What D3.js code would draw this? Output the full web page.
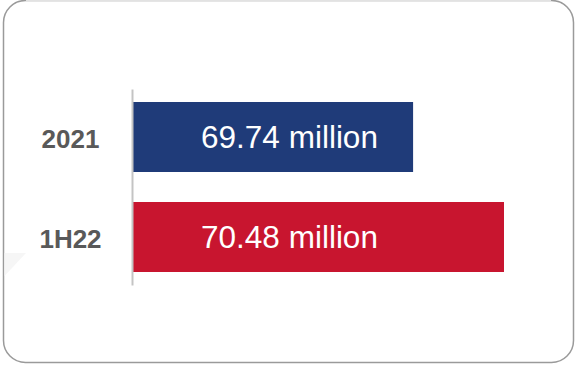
<!DOCTYPE html>
<html>
<head>
<meta charset="utf-8">
<script src="https://cdn.jsdelivr.net/npm/d3@7/dist/d3.min.js"></script>
<style>
  body { margin: 0; background: #fff; }
  svg { display: block; font-family: "Liberation Sans", Arial, sans-serif; }
</style>
</head>
<body>
<div id="chart"></div>
<script>
const categories = ["2021", "1H22"];
const values = [69.74, 70.48];
const valueLabels = ["69.74 million", "70.48 million"];
const colors = ["#1f3b79", "#c8152f"];

const width = 575;
const height = 365;

const svg = d3
  .select("#chart")
  .append("svg")
  .attr("width", width)
  .attr("height", height);

// card frame
svg
  .append("rect")
  .attr("x", 3.5)
  .attr("y", 0.5)
  .attr("width", 570)
  .attr("height", 362)
  .attr("rx", 22)
  .attr("fill", "#fff")
  .attr("stroke", "#9a9a9a")
  .attr("stroke-width", 1.5);

svg
  .append("line")
  .attr("x1", 26)
  .attr("x2", 551)
  .attr("y1", 0.5)
  .attr("y2", 0.5)
  .attr("stroke", "#e2e2e2")
  .attr("stroke-width", 1.5);

// faint decorative wedge on the left edge
svg
  .append("path")
  .attr("d", "M4.5,253 L26,253 L4.5,276 Z")
  .attr("fill", "#f6f6f6");

let x = d3.scaleLinear().domain([67.46, 70.48]).range([133, 504]);
let y = d3
  .scaleBand()
  .domain(categories)
  .range([89, 285])
  .paddingInner(0.3)
  .paddingOuter(0.13);

const data = categories.map((c, i) => ({
  cat: c,
  value: values[i],
  label: valueLabels[i],
  color: colors[i],
}));

svg
  .selectAll(".bar")
  .data(data)
  .enter()
  .append("rect")
  .attr("class", "bar")
  .attr("x", x.range()[0])
  .attr("y", (d) => y(d.cat))
  .attr("width", (d) => x(d.value) - x.range()[0])
  .attr("height", y.bandwidth())
  .attr("fill", (d) => d.color);

// category axis
let yAxis = svg
  .append("g")
  .attr("transform", "translate(132,0)")
  .call(d3.axisLeft(y).tickSize(0).tickPadding(0));

yAxis.select(".domain").attr("stroke", "#c4c4c4").attr("stroke-width", 2);
yAxis.selectAll(".tick text").remove();

svg
  .selectAll(".cat")
  .data(data)
  .enter()
  .append("text")
  .attr("class", "cat")
  .attr("x", 70.5)
  .attr("y", (d) => y(d.cat) + y.bandwidth() / 2 + 11)
  .attr("text-anchor", "middle")
  .attr("font-size", 26)
  .attr("font-weight", "bold")
  .attr("fill", "#595959")
  .text((d) => d.cat);

svg
  .selectAll(".val")
  .data(data)
  .enter()
  .append("text")
  .attr("class", "val")
  .attr("x", 289.5)
  .attr("y", (d) => y(d.cat) + y.bandwidth() / 2 + 11)
  .attr("text-anchor", "middle")
  .attr("font-size", 31.5)
  .attr("fill", "#fff")
  .text((d) => d.label);
</script>
</body>
</html>
